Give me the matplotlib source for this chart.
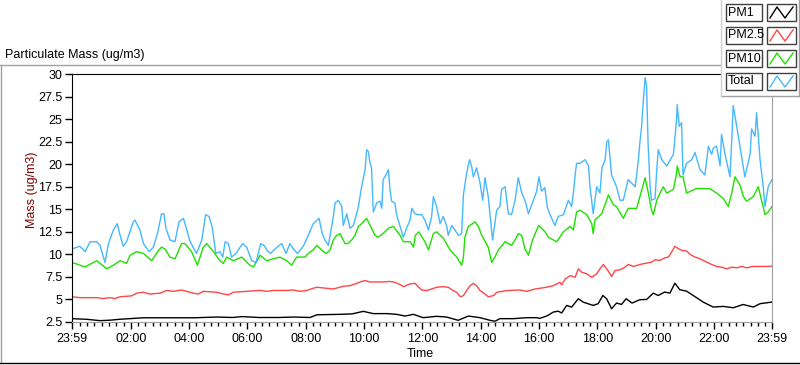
import matplotlib.pyplot as plt
from matplotlib.lines import Line2D
from matplotlib.patches import Rectangle

plt.rcParams['font.family'] = ['Liberation Sans', 'DejaVu Sans']
plt.rcParams['font.size'] = 9

# time axis in hours after 23:59 of the previous day
total_t = [0, 0.27, 0.45, 0.62, 0.85, 0.96, 1.13, 1.25, 1.42, 1.55,
           1.65, 1.76, 1.87, 2.10, 2.16, 2.33, 2.45, 2.65, 2.79, 2.93,
           3.07, 3.15, 3.22, 3.36, 3.53, 3.67, 3.82, 3.91, 4.05, 4.27,
           4.45, 4.58, 4.70, 4.81, 4.93, 5.07, 5.17, 5.25, 5.36, 5.47,
           5.62, 5.85, 5.99, 6.16, 6.31, 6.47, 6.58, 6.70, 6.81, 6.96,
           7.19, 7.34, 7.47, 7.59, 7.73, 7.93, 8.10, 8.27, 8.47, 8.58,
           8.67, 8.79, 8.96, 9.02, 9.13, 9.25, 9.30, 9.42, 9.53, 9.65,
           9.82, 9.93, 10.05, 10.10, 10.16, 10.22, 10.27, 10.33, 10.45, 10.56,
           10.62, 10.67, 10.73, 10.85, 10.90, 10.96, 11.07, 11.13, 11.25, 11.36,
           11.47, 11.59, 11.65, 11.76, 11.87, 11.99, 12.10, 12.22, 12.33, 12.39,
           12.50, 12.62, 12.73, 12.85, 12.90, 13.02, 13.13, 13.25, 13.36, 13.42,
           13.53, 13.63, 13.70, 13.76, 13.87, 13.99, 14.08, 14.16, 14.27, 14.33,
           14.42, 14.56, 14.67, 14.73, 14.85, 14.96, 15.07, 15.19, 15.30, 15.42,
           15.53, 15.65, 15.82, 15.93, 16.01, 16.10, 16.21, 16.30, 16.39, 16.56,
           16.67, 16.85, 17.02, 17.13, 17.19, 17.25, 17.30, 17.42, 17.59, 17.71,
           17.76, 17.87, 17.99, 18.10, 18.17, 18.28, 18.33, 18.39, 18.50, 18.67,
           18.79, 18.90, 19.07, 19.31, 19.42, 19.47, 19.53, 19.59, 19.65, 19.70,
           19.75, 19.82, 19.87, 19.99, 20.05, 20.10, 20.22, 20.39, 20.62, 20.73,
           20.75, 20.82, 20.90, 20.95, 21.07, 21.25, 21.36, 21.53, 21.70, 21.82,
           21.93, 21.99, 22.10, 22.22, 22.27, 22.39, 22.56, 22.62, 22.67, 22.79,
           22.90, 23.07, 23.25, 23.30, 23.42, 23.47, 23.59, 23.70, 23.76, 23.87,
           24.0]
total_v = [10.6, 10.9, 10.3, 11.4, 11.4, 11.0, 9.1, 11.2, 12.7, 13.4,
           12.1, 10.9, 11.4, 13.6, 13.8, 12.7, 11.2, 10.3, 10.8, 12.3,
           14.5, 14.5, 12.9, 11.6, 11.4, 13.6, 14.0, 13.0, 11.4, 10.1,
           11.6, 14.4, 14.2, 13.0, 10.1, 10.3, 9.7, 11.4, 11.2, 9.7,
           10.1, 11.2, 10.8, 9.3, 9.1, 11.2, 11.0, 10.4, 10.1, 10.6,
           11.2, 10.1, 11.2, 10.6, 10.1, 10.9, 12.1, 13.4, 14.0, 12.3,
           11.6, 11.0, 14.2, 15.7, 16.0, 15.3, 13.2, 14.5, 12.9, 13.2,
           15.3, 17.5, 19.4, 21.6, 21.4, 20.1, 19.6, 14.7, 15.7, 15.9,
           15.1, 18.3, 18.6, 19.4, 17.2, 15.9, 15.7, 14.4, 13.1, 11.9,
           12.9, 13.8, 15.1, 14.5, 14.4, 14.4, 13.8, 12.7, 14.2, 16.4,
           15.3, 13.4, 14.2, 13.1, 12.1, 13.2, 12.7, 12.1, 12.3, 16.6,
           19.0, 20.5, 19.8, 18.6, 19.6, 17.9, 16.0, 18.5, 16.4, 14.5,
           11.6, 14.9, 15.3, 17.2, 17.5, 14.5, 14.4, 16.0, 18.5, 16.8,
           16.0, 14.5, 16.0, 17.0, 18.6, 17.0, 17.4, 15.2, 14.4, 13.2,
           14.2, 14.4, 16.0, 15.3, 16.8, 18.8, 20.1, 20.1, 20.5, 19.8,
           17.5, 14.5, 17.5, 16.8, 19.6, 20.5, 22.4, 22.7, 18.8, 17.5,
           16.0, 16.0, 18.3, 17.5, 20.5, 22.4, 24.2, 27.2, 29.6, 28.7,
           22.4, 17.5, 16.0, 16.2, 19.4, 21.6, 20.5, 19.8, 21.1, 25.0,
           26.6, 24.2, 24.6, 18.8, 20.1, 20.5, 21.3, 19.4, 18.8, 22.0,
           21.1, 21.8, 22.0, 19.8, 23.3, 21.1, 18.6, 22.7, 26.5, 24.2,
           22.0, 18.6, 21.1, 23.9, 23.1, 25.7, 20.5, 17.5, 15.3, 17.5,
           18.3]

pm10_t = [0, 0.10, 0.45, 0.73, 0.85, 1.19, 1.42, 1.65, 1.87, 1.99,
          2.22, 2.45, 2.73, 2.96, 3.07, 3.19, 3.36, 3.53, 3.76, 3.87,
          4.10, 4.30, 4.50, 4.62, 4.85, 5.07, 5.19, 5.30, 5.53, 5.82,
          6.10, 6.22, 6.45, 6.67, 6.90, 7.13, 7.36, 7.53, 7.70, 7.99,
          8.10, 8.27, 8.39, 8.62, 8.73, 8.85, 8.96, 9.07, 9.19, 9.36,
          9.47, 9.59, 9.70, 9.82, 9.93, 10.10, 10.22, 10.39, 10.50, 10.73,
          10.85, 11.02, 11.25, 11.36, 11.59, 11.71, 11.77, 11.89, 12.10, 12.22,
          12.39, 12.50, 12.73, 12.96, 13.19, 13.36, 13.42, 13.47, 13.59, 13.82,
          13.93, 14.05, 14.27, 14.39, 14.50, 14.62, 14.85, 15.07, 15.19, 15.30,
          15.42, 15.53, 15.65, 15.77, 15.88, 16.00, 16.22, 16.33, 16.50, 16.62,
          16.85, 17.08, 17.19, 17.30, 17.42, 17.65, 17.82, 17.87, 17.93, 18.16,
          18.33, 18.39, 18.56, 18.67, 18.90, 19.07, 19.36, 19.47, 19.65, 19.76,
          19.87, 19.93, 20.05, 20.16, 20.27, 20.39, 20.62, 20.73, 20.75, 20.85,
          20.95, 21.07, 21.41, 21.63, 21.86, 22.10, 22.33, 22.50, 22.62, 22.73,
          22.90, 23.02, 23.13, 23.36, 23.53, 23.65, 23.76, 23.87, 24.0]
pm10_v = [9.1, 9.0, 8.6, 9.1, 9.3, 8.4, 8.8, 9.3, 9.0, 9.9,
          10.3, 10.1, 9.3, 10.4, 10.8, 10.6, 9.7, 9.5, 11.2, 11.2,
          10.3, 8.8, 10.8, 11.2, 10.3, 9.3, 9.0, 9.7, 9.3, 9.7,
          8.8, 8.6, 9.9, 9.3, 9.5, 9.7, 9.3, 8.8, 9.7, 9.7,
          10.1, 10.5, 11.0, 10.3, 10.1, 10.5, 11.6, 12.1, 12.3, 11.2,
          11.2, 11.6, 12.1, 13.1, 13.4, 14.0, 13.2, 12.1, 11.9, 12.5,
          12.9, 13.1, 12.1, 11.4, 11.4, 10.8, 12.1, 12.5, 11.4, 10.5,
          12.3, 12.5, 11.8, 10.5, 9.7, 8.8, 9.7, 11.9, 13.1, 13.6,
          13.1, 12.1, 10.8, 9.1, 9.7, 10.5, 11.4, 11.0, 11.6, 12.3,
          12.1, 10.6, 9.9, 11.4, 12.3, 13.2, 12.5, 11.9, 11.6, 11.4,
          12.5, 13.1, 12.7, 14.7, 14.9, 14.4, 13.4, 12.3, 13.8, 14.5,
          16.0, 16.6, 15.5, 15.3, 14.0, 15.1, 15.1, 16.4, 18.5, 16.8,
          14.9, 14.4, 16.0, 16.8, 17.5, 16.8, 17.2, 19.0, 19.8, 18.6,
          18.6, 16.8, 17.3, 17.3, 17.3, 16.8, 16.2, 15.3, 16.8, 18.6,
          17.7, 16.4, 15.9, 16.4, 17.5, 15.9, 14.4, 14.7, 15.3]

pm25_t = [0, 0.27, 0.85, 1.07, 1.30, 1.47, 1.65, 2.05, 2.22, 2.45,
          2.67, 3.02, 3.25, 3.47, 3.76, 3.93, 4.16, 4.33, 4.50, 4.96,
          5.19, 5.36, 5.53, 5.99, 6.45, 6.67, 6.90, 7.36, 7.59, 7.82,
          8.05, 8.27, 8.39, 8.73, 8.96, 9.30, 9.53, 9.77, 9.93, 10.05,
          10.22, 10.67, 10.90, 11.07, 11.25, 11.36, 11.59, 11.76, 11.87, 11.99,
          12.16, 12.33, 12.50, 12.73, 12.90, 13.07, 13.19, 13.31, 13.42, 13.53,
          13.65, 13.76, 13.87, 13.99, 14.16, 14.27, 14.45, 14.56, 14.90, 15.36,
          15.59, 15.88, 16.27, 16.50, 16.73, 16.79, 16.91, 17.09, 17.25, 17.36,
          17.47, 17.65, 17.82, 17.99, 18.10, 18.22, 18.33, 18.45, 18.50, 18.62,
          18.79, 18.96, 19.07, 19.25, 19.47, 19.70, 19.87, 19.99, 20.16, 20.33,
          20.45, 20.56, 20.67, 20.79, 20.90, 21.07, 21.19, 21.36, 21.53, 21.76,
          21.93, 22.10, 22.27, 22.45, 22.62, 22.79, 22.96, 23.13, 23.36, 23.59,
          23.81, 24.0]
pm25_v = [5.3, 5.2, 5.2, 5.1, 5.2, 5.1, 5.3, 5.4, 5.7, 5.8,
          5.6, 5.7, 6.0, 5.9, 6.05, 5.9, 5.7, 5.6, 5.9, 5.8,
          5.6, 5.5, 5.8, 5.9, 6.0, 5.9, 6.0, 6.0, 6.05, 5.9,
          6.0, 6.24, 6.35, 6.24, 6.16, 6.46, 6.53, 6.79, 7.0, 7.09,
          6.94, 6.94, 7.0, 6.9, 6.65, 6.42, 6.72, 6.79, 6.42, 6.05,
          5.98, 6.16, 6.35, 6.42, 6.35, 5.98, 5.79, 5.3, 5.42, 5.98,
          6.53, 6.79, 6.53, 5.98, 5.6, 5.3, 5.42, 5.79, 5.98, 6.05,
          5.9, 6.16, 6.35, 6.53, 6.9, 6.61, 7.28, 7.65, 7.46, 8.4,
          8.03, 7.84, 7.46, 7.84, 8.4, 8.88, 8.4, 7.84, 7.54, 8.21,
          8.29, 8.58, 8.88, 8.66, 8.88, 9.03, 9.14, 9.4, 9.33, 9.63,
          9.7, 10.26, 10.89, 10.63, 10.45, 10.37, 10.0, 9.7, 9.52, 9.14,
          8.88, 8.66, 8.58, 8.4, 8.58, 8.51, 8.66, 8.51, 8.66, 8.66,
          8.66, 8.7]

pm1_t = [0, 0.5, 0.96, 1.3, 1.63, 1.98, 2.44, 3.5, 4.2, 4.96,
         5.5, 5.83, 6.4, 7.1, 7.6, 8.16, 8.4, 9.2, 9.6, 9.99,
         10.33, 10.8, 11.13, 11.42, 11.7, 12.04, 12.5, 12.84, 13.24, 13.59,
         13.99, 14.33, 14.5, 14.67, 15.13, 15.59, 15.93, 16.04, 16.3, 16.5,
         16.67, 16.79, 16.96, 17.13, 17.36, 17.53, 17.87, 18.04, 18.2, 18.33,
         18.5, 18.67, 18.84, 19.0, 19.2, 19.47, 19.7, 19.93, 20.1, 20.32,
         20.5, 20.67, 20.84, 21.07, 21.3, 21.64, 21.98, 22.33, 22.67, 23.01,
         23.36, 23.59, 24.0]
pm1_v = [2.87, 2.8, 2.65, 2.7, 2.8, 2.87, 2.97, 2.97, 2.97, 3.05,
         3.0, 3.1, 3.0, 3.0, 3.05, 3.0, 3.3, 3.35, 3.4, 3.68,
         3.43, 3.43, 3.35, 3.16, 3.35, 2.98, 3.13, 3.05, 2.69, 3.16,
         2.98, 2.69, 2.58, 2.87, 2.87, 2.98, 2.98, 2.9, 3.2, 3.6,
         3.7, 3.5, 4.34, 4.15, 5.08, 4.7, 4.34, 4.53, 5.44, 5.08,
         3.97, 4.6, 4.45, 5.08, 4.6, 4.97, 5.0, 5.7, 5.44, 5.82,
         5.7, 6.8, 6.08, 5.92, 5.44, 4.71, 4.16, 4.23, 4.08, 4.44,
         4.16, 4.53, 4.71]

series_names = ['PM1', 'PM2.5', 'PM10', 'Total']
series_colors = ['black', '#ff4646', '#1ee000', '#45b8ff']

y_ticks = [2.5, 5, 7.5, 10, 12.5, 15, 17.5, 20, 22.5, 25, 27.5, 30]
x_labels = ['23:59', '02:00', '04:00', '06:00', '08:00', '10:00', '12:00',
            '14:00', '16:00', '18:00', '20:00', '22:00', '23:59']
x_major = [0] + [h + 1 / 60 for h in range(2, 24, 2)] + [24]
x_minor = [1 / 60 + k * 0.25 for k in range(96) if k % 8 != 0]

W, H = 800, 365


def fx(px):
    return px / W


def fy(py):
    return 1 - py / H


fig = plt.figure(figsize=(8, 3.65), dpi=100)
ax = fig.add_axes([fx(72), fy(322), fx(772) - fx(72), fy(74) - fy(322)])

data = [(pm1_t, pm1_v), (pm25_t, pm25_v), (pm10_t, pm10_v), (total_t, total_v)]
for (t, v), c in zip(data, series_colors):
    ax.plot(t, v, color=c, lw=1)

ax.set_xlim(0, 24)
ax.set_ylim(2.5, 30)
ax.set_yticks(y_ticks)
ax.set_yticklabels(['%g' % y for y in y_ticks])
ax.set_xticks(x_major)
ax.set_xticklabels(x_labels)
ax.set_xticks(x_minor, minor=True)
ax.tick_params(axis='y', length=5, width=1, pad=2, labelsize=9)
ax.tick_params(axis='x', which='major', length=5, width=1, pad=3, labelsize=9)
ax.tick_params(axis='x', which='minor', length=3, width=1)
for s in ['left', 'top']:
    ax.spines[s].set_color('black')
for s in ['right', 'bottom']:
    ax.spines[s].set_color('#a0a0a0')

fig.text(fx(5), fy(55), 'Particulate Mass (ug/m3)', va='center', ha='left', fontsize=9)
fig.text(fx(32), fy(190), 'Mass (ug/m3)', rotation=90, va='center', ha='center',
         color='#800000', fontsize=9)
fig.text(fx(420), fy(354), 'Time', va='center', ha='center', fontsize=9)

# outer frame of the graph
fig.add_artist(Line2D([fx(0), fx(721)], [fy(65), fy(65)], color='#a0a0a0', lw=1))
fig.add_artist(Line2D([fx(1), fx(1)], [fy(65), fy(363)], color='#a0a0a0', lw=1))
fig.add_artist(Line2D([fx(0), fx(799)], [fy(363), fy(363)], color='black', lw=1))

# legend panel (sits over the top right corner of the plot)
fig.add_artist(Rectangle((fx(721), fy(96)), fx(800) - fx(721), fy(0) - fy(96),
                         facecolor='white', edgecolor='none', zorder=5))
fig.add_artist(Line2D([fx(721), fx(799)], [fy(96), fy(96)], color='#a0a0a0', lw=1, zorder=6))
fig.add_artist(Line2D([fx(799), fx(799)], [fy(0), fy(96)], color='#a0a0a0', lw=1, zorder=6))
fig.add_artist(Line2D([fx(721), fx(721)], [fy(0), fy(96)], color='#d0d0d0', lw=1, zorder=6))

row_top = [4, 27, 50, 73]
for name, c, top in zip(series_names, series_colors, row_top):
    bot = top + 17
    fig.add_artist(Rectangle((fx(726), fy(bot)), fx(762) - fx(726), fy(top) - fy(bot),
                             facecolor='white', edgecolor='#404040', lw=1, zorder=7))
    fig.text(fx(728), fy((top + bot) / 2), name, va='center', ha='left', fontsize=9, zorder=8)
    fig.add_artist(Rectangle((fx(767), fy(bot)), fx(796) - fx(767), fy(top) - fy(bot),
                             facecolor='white', edgecolor='#404040', lw=1, zorder=7))
    zx = [770, 777, 785, 793]
    zy = [bot - 3, top + 3, bot - 3, top + 3]
    fig.add_artist(Line2D([fx(p) for p in zx], [fy(p) for p in zy], color=c, lw=1, zorder=8))

fig.savefig('out.png', dpi=100)
